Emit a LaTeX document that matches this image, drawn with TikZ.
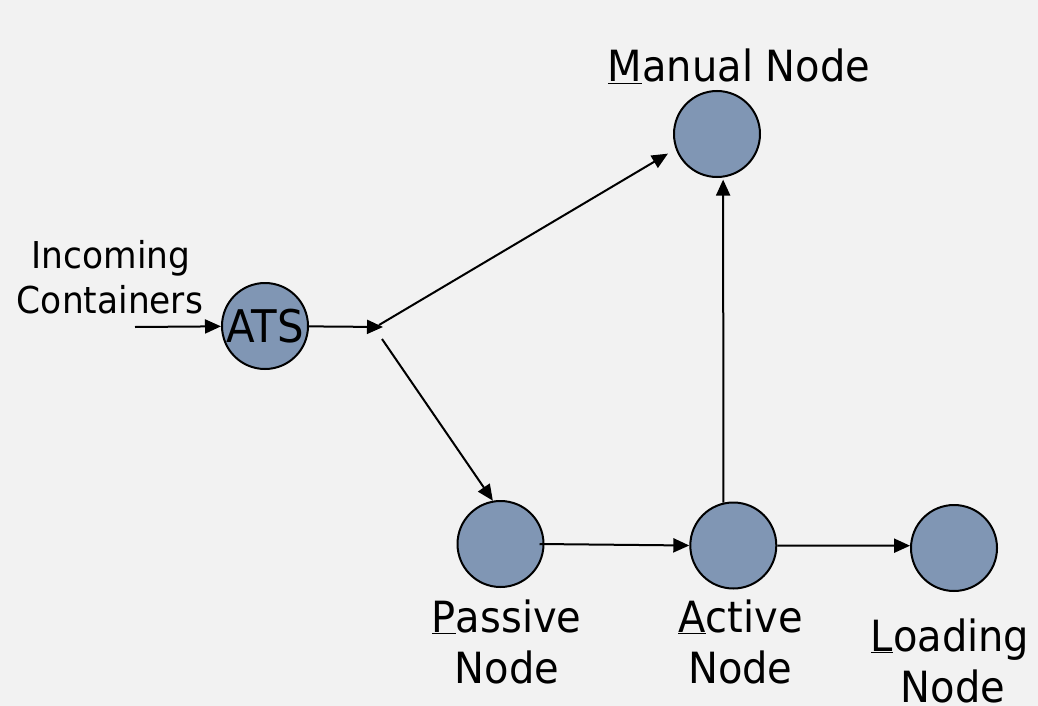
\documentclass[tikz,border=0pt]{standalone}
\usepackage{fontspec}
\setmainfont{DejaVu Sans}
\newfontfamily\labfont[FakeStretch=0.93]{DejaVu Sans}
\usetikzlibrary{arrows.meta}
\definecolor{bgc}{HTML}{F2F2F2}
\definecolor{nodefill}{HTML}{8096B4}

\begin{document}
\begin{tikzpicture}[x=1pt,y=-1pt,
  station/.style={circle,draw=black,line width=2pt,fill=nodefill,
    minimum size=86pt,inner sep=0pt},
  lbl/.style={anchor=base,inner sep=0pt,font=\labfont\fontsize{43}{51}\selectfont},
  smalllbl/.style={anchor=base,inner sep=0pt,font=\labfont\fontsize{37}{45}\selectfont},
  flow/.style={line width=2pt,-{Triangle[length=16pt,width=14pt]}}]

% canvas
\fill[bgc] (0,0) rectangle (1038,706);

% stations
\node[station,font=\labfont\fontsize{45}{54}\selectfont] (ats) at (265,326) {ATS};
\node[station] (man)  at (717,134)   {};
\node[station] (pas)  at (500.5,544) {};
\node[station] (act)  at (733.3,545.5) {};
\node[station] (load) at (954,548)   {};

% station names
\node[smalllbl] (inc1) at (111,268) {Incoming};
\node[smalllbl] (inc2) at (110,313) {Containers};
\node[lbl] (manlbl) at (739,82) {\underline{M}anual Node};
\node[lbl] (pas1) at (506.7,632) {\underline{P}assive};
\node[lbl] (pas2) at (507,683) {Node};
\node[lbl] (act1) at (740.5,632) {\underline{A}ctive};
\node[lbl] (act2) at (740.3,683) {Node};
\node[lbl] (load1) at (950,651) {\underline{L}oading};
\node[lbl] (load2) at (953,702) {Node};

% free ends of the flow arrows
\coordinate (inc)   at (135,327);
\coordinate (split) at (383,327);
\coordinate (up)    at (379,325);
\coordinate (down)  at (382,339);

% flows
\draw[flow] (inc) -- (ats);
\draw[flow] (ats) -- (split);
\draw[flow,shorten >=9pt] (up) -- (man.200);
\draw[flow] (down) -- (pas.100);
\draw[flow] ([xshift=-5pt]pas.east) -- (act.west);
\draw[flow] (act.east) -- (load.177);
\draw[flow,shorten >=2pt] (act.103.5) -- (man.-82);
\end{tikzpicture}
\end{document}
